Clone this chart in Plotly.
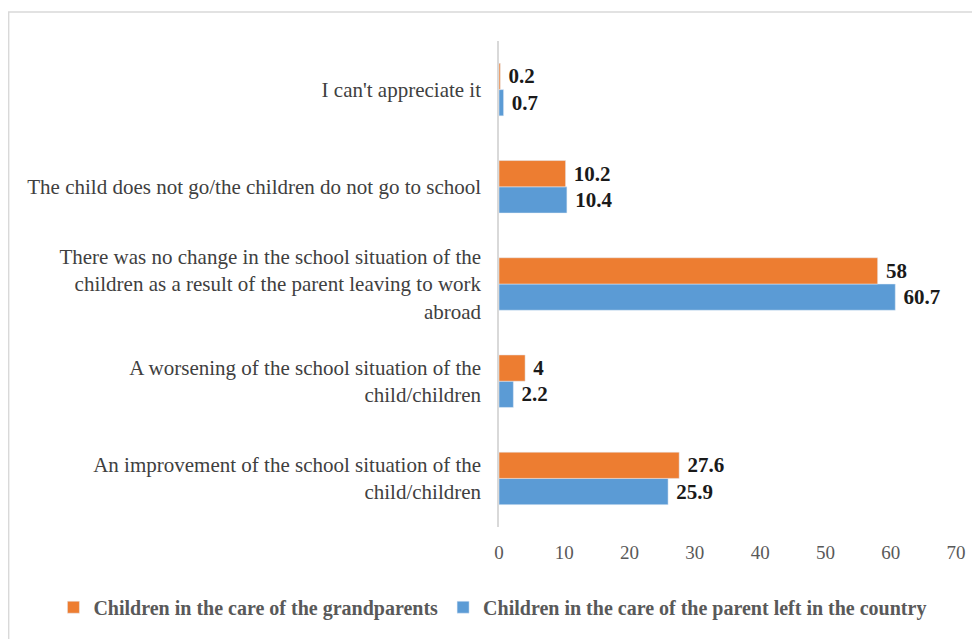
import plotly.graph_objects as go

categories = [
    "An improvement of the school situation of the<br>child/children",
    "A worsening of the school situation of the<br>child/children",
    "There was no change in the school situation of the<br>children as a result of the parent leaving to work<br>abroad",
    "The child does not go/the children do not go to school",
    "I can't appreciate it",
]
grandparents = [27.6, 4, 58, 10.2, 0.2]
parent_left = [25.9, 2.2, 60.7, 10.4, 0.7]
x_ticks = [0, 10, 20, 30, 40, 50, 60, 70]

serif = "Liberation Serif, Times New Roman, serif"
label_font = dict(family=serif, size=21, color="#1a1a1a")

fig = go.Figure()
fig.add_trace(go.Bar(
    y=categories, x=parent_left, orientation="h",
    name="Children in the care of the parent left in the country",
    marker_color="#5b9bd5", text=[f"\u00a0<b>{v:g}</b>" for v in parent_left],
    textposition="outside", textfont=label_font, cliponaxis=False,
    legendrank=2,
))
fig.add_trace(go.Bar(
    y=categories, x=grandparents, orientation="h",
    name="Children in the care of the grandparents",
    marker_color="#ed7d31", text=[f"\u00a0<b>{v:g}</b>" for v in grandparents],
    textposition="outside", textfont=label_font, cliponaxis=False,
    legendrank=1,
))

fig.update_layout(
    width=980, height=639,
    margin=dict(l=491, r=32, t=33, b=120, autoexpand=False),
    paper_bgcolor="white", plot_bgcolor="white",
    barmode="group", bargap=0.46, bargroupgap=0,
    font=dict(family=serif, color="#404040"),
    showlegend=True,
    legend=dict(
        orientation="h", x=-0.975, xanchor="left", y=-0.165, yanchor="middle",
        font=dict(family=serif, size=20, color="#595959", weight="bold"),
        itemwidth=30, traceorder="normal", tracegroupgap=0,
    ),
    xaxis=dict(
        range=[0, 70], tickvals=x_ticks, showgrid=False, zeroline=False,
        showline=False, tickfont=dict(family=serif, size=19, color="#595959"),
        ticks="", ticklabelstandoff=12,
    ),
    yaxis=dict(
        showgrid=False, zeroline=False, showline=True, linecolor="#d9d9d9",
        linewidth=1.5, tickfont=dict(family=serif, size=21, color="#404040"),
        ticks="", ticklabelstandoff=12,
    ),
    shapes=[dict(
        type="rect", xref="paper", yref="paper",
        x0=-1.073, x1=1.2, y0=-0.3, y1=1.0597,
        line=dict(color="#d9d9d9", width=1.5), fillcolor="rgba(0,0,0,0)",
        layer="below",
    )],
)

fig.write_html("out.html")
